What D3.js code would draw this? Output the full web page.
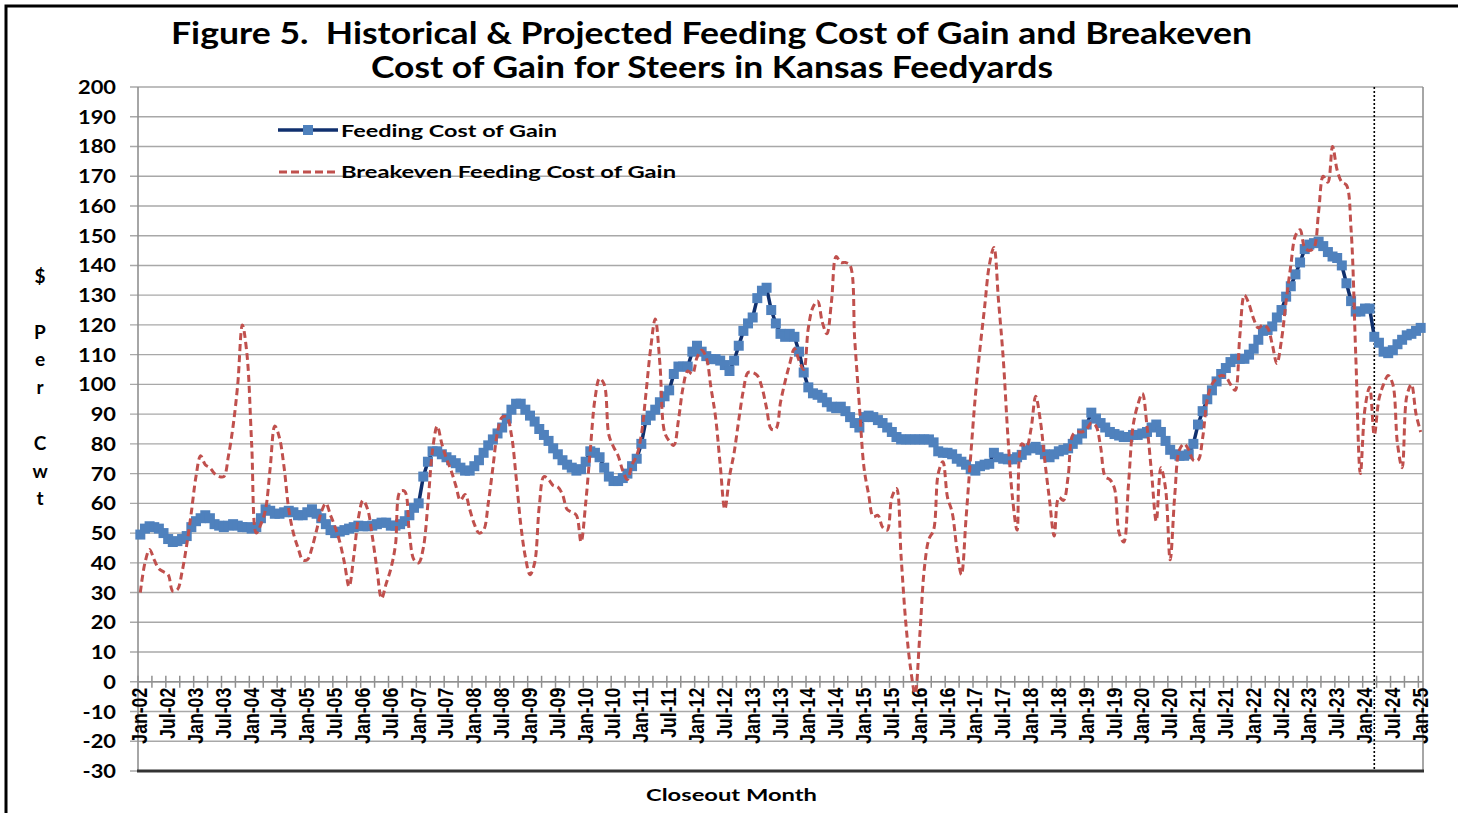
<!DOCTYPE html>
<html>
<head>
<meta charset="utf-8">
<script src="https://cdn.jsdelivr.net/npm/d3@7"></script>
<style>
  html, body { margin: 0; padding: 0; background: #fff; }
  svg { display: block; }
  text { white-space: pre; }
</style>
</head>
<body>
<svg id="chart" width="1458" height="813"></svg>
<script>
// ---------- DATA ----------
const firstMonth = new Date(2002, 0, 1);
const lastMonth = new Date(2025, 0, 1);
const projectionStart = "Mar-24";

const tickLabels = [
  "Jan-02","Jul-02","Jan-03","Jul-03","Jan-04","Jul-04","Jan-05","Jul-05","Jan-06","Jul-06",
  "Jan-07","Jul-07","Jan-08","Jul-08","Jan-09","Jul-09","Jan-10","Jul-10","Jan-11","Jul-11",
  "Jan-12","Jul-12","Jan-13","Jul-13","Jan-14","Jul-14","Jan-15","Jul-15","Jan-16","Jul-16",
  "Jan-17","Jul-17","Jan-18","Jul-18","Jan-19","Jul-19","Jan-20","Jul-20","Jan-21","Jul-21",
  "Jan-22","Jul-22","Jan-23","Jul-23","Jan-24","Jul-24","Jan-25"
];

const yTicks = [-30,-20,-10,0,10,20,30,40,50,60,70,80,90,100,110,120,130,140,150,160,170,180,190,200];

// Feeding Cost of Gain ($/cwt), monthly Jan-02 .. Jan-25
const feedingCOG = [
  49.5, 51.5, 52.3, 52, 51.5, 50, 48, 47, 47.3, 48, 49, 52,          // 2002
  54, 55, 56, 55, 53, 52.5, 52, 52.5, 53, 52.5, 52, 52,              // 2003
  51.5, 52, 55, 58, 57.5, 56.5, 56.5, 57, 57.5, 57, 56, 56,          // 2004
  57, 58, 56.5, 55, 53, 51, 50, 50.5, 51, 51.5, 52, 52.5,            // 2005
  52.3, 52.3, 52.5, 53, 53.5, 53.5, 52.5, 52.5, 53, 54, 56, 58.5,    // 2006
  60, 69, 74, 77.5, 77.5, 76.5, 75.5, 74.5, 73.5, 72, 71, 71,        // 2007
  72.5, 74.5, 77, 79.5, 81.5, 83.5, 85.5, 88.5, 91.5, 93.5, 93.5, 91.5, // 2008
  89.5, 87.5, 85, 83, 81, 78.5, 76.5, 74.5, 73, 72, 71, 71.5,        // 2009
  74, 77.5, 77, 75.5, 72, 69, 67.5, 67.5, 68.5, 70, 72.5, 75,        // 2010
  80, 88, 89.5, 91.5, 94, 96, 98, 103.5, 106, 106, 106, 111,         // 2011
  113, 111, 109.5, 108.5, 108.5, 108, 106.5, 104.5, 108, 113, 118, 120.5, // 2012
  122.5, 129, 131.5, 132.5, 125, 120.5, 117, 116, 117, 116, 111, 104,   // 2013
  99, 97, 96.5, 95.5, 94, 92.5, 92, 92.5, 91, 89, 87, 85.5,          // 2014
  89, 89.5, 89, 88, 87, 85.5, 84, 82.3, 81.5, 81.5, 81.5, 81.5,      // 2015
  81.5, 81.5, 81.5, 80.5, 77.5, 77, 77, 76.5, 75, 74, 73, 71.5,      // 2016
  71, 72.5, 73, 73.3, 77, 75.5, 75, 74.8, 74.8, 75.5, 76.3, 77.8,    // 2017
  78.5, 79, 78, 76.5, 75.5, 76.5, 77.5, 78, 78.5, 80, 81.5, 83.5,    // 2018
  86.5, 90.5, 88.5, 87, 85.5, 84, 83.3, 82.8, 82.3, 82.3, 83, 83,    // 2019
  83.5, 84, 85.5, 86.5, 84, 81, 78, 76.5, 76, 76, 76.5, 80,          // 2020
  86.5, 91, 95, 98, 101, 103.5, 105.5, 107.5, 108.6, 108.6, 108.6, 110, // 2021
  112, 115, 118, 118.3, 119.5, 122.5, 125, 129.5, 133, 137, 141, 145.5, // 2022
  147, 147.5, 148, 146.5, 144.5, 143, 142.5, 140, 134, 128, 124.5, 124.5, // 2023
  125.5, 125.5, 116, 114, 111, 110.5, 111.5, 113.5, 115, 116.5, 117, 118, // 2024
  119                                                                  // 2025
];

// Breakeven Feeding Cost of Gain ($/cwt), monthly Jan-02 .. Jan-25
const breakevenCOG = [
  30, 40, 44.5, 41, 38, 37, 36, 30.5, 31, 37, 46, 57,                // 2002
  69, 76, 73, 72, 70, 69, 69, 76, 86, 100, 120, 110,                 // 2003
  80, 50, 53, 58, 72, 86, 82, 72, 58, 50, 45, 41,                    // 2004
  41, 45, 51, 57, 60, 56, 52, 47, 40, 32, 42, 55,                    // 2005
  61, 58, 49, 38, 28, 33, 38, 46, 64, 64, 50, 41,                    // 2006
  40, 45, 60, 78, 86, 80, 75, 71, 66, 61, 63, 58,                    // 2007
  53, 50, 51, 60, 72, 84, 89, 89, 83, 69, 53, 42,                    // 2008
  36, 40, 59, 69, 68, 66, 65.5, 63, 58, 57, 56, 47,                  // 2009
  60, 78, 95, 102, 100, 83, 79, 76, 71, 68, 73, 76,                  // 2010
  83, 97, 112, 122, 107, 84, 81, 79.5, 88, 99, 104.5, 103.5,         // 2011
  109, 111.5, 109, 99, 89, 73, 58, 69, 77, 88, 98, 104,              // 2012
  104, 103, 99, 92, 85, 85, 94, 101, 107, 112, 108, 105,             // 2013
  119, 126, 128, 121, 117, 128, 143, 141, 141, 140, 115, 93,         // 2014
  72, 63, 55.5, 56, 52, 51, 62, 65, 42, 20, 5, -4,                   // 2015
  15, 38, 48, 51, 70, 74, 62, 57, 45, 36, 55, 76,                    // 2016
  96, 112, 126, 140, 146, 128, 109, 83, 62, 51, 80, 79,              // 2017
  85, 96, 88, 74, 61, 49, 62, 61, 69, 83, 84, 84,                    // 2018
  85, 87, 86, 79, 69, 68, 65, 50, 47, 66, 86, 93,                    // 2019
  97, 86, 70, 54, 72, 65, 41, 63, 78, 80, 78, 74.5,                  // 2020
  74.5, 82, 95, 100, 102, 103, 102.5, 100, 98, 116, 130, 127,        // 2021
  122, 119, 120, 119, 113.5, 107, 115, 128, 140, 150, 152, 146,      // 2022
  145, 146, 158, 170, 168, 180, 172, 168, 167, 152, 110, 70,         // 2023
  92, 99, 83, 95, 100, 103, 100, 80, 72, 96, 100, 90,                // 2024
  84                                                                 // 2025
];

const titleLines = [
  "Figure 5.  Historical & Projected Feeding Cost of Gain and Breakeven",
  "Cost of Gain for Steers in Kansas Feedyards"
];
const seriesNames = ["Feeding Cost of Gain", "Breakeven Feeding Cost of Gain"];
const xTitle = "Closeout Month";
const yTitleLines = ["$", "", "P", "e", "r", "", "C", "w", "t"];

// ---------- SETUP ----------
const fmt = d3.timeFormat("%b-%y");
const months = d3.timeMonth.range(firstMonth, d3.timeMonth.offset(lastMonth, 1)).map(fmt);

const svg = d3.select("#chart");
const plot = { left: 138, right: 1423, top: 87, bottom: 771 };

const x = d3.scaleBand().domain(months).range([plot.left, plot.right]).paddingInner(0).paddingOuter(0);
const bw = x.bandwidth();
const cx = m => x(m) + bw / 2;
const xb = d3.scaleLinear().domain([0, months.length]).range([plot.left, plot.right]); // category boundaries
const y = d3.scaleLinear().domain([-30, 200]).range([plot.bottom, plot.top]);

const gridColor = "#A8A8A8";
const font = "Lato, 'Open Sans', 'DejaVu Sans', sans-serif";

svg.append("rect").attr("width", 1458).attr("height", 813).attr("fill", "#fff");

// outer frame
svg.append("rect").attr("x", 6).attr("y", 6).attr("width", 1470).attr("height", 830)
  .attr("fill", "none").attr("stroke", "#000").attr("stroke-width", 3);

// gridlines + y ticks
svg.append("g").selectAll("line").data(yTicks).join("line")
  .attr("x1", plot.left - 8).attr("x2", plot.right)
  .attr("y1", d => y(d)).attr("y2", d => y(d))
  .attr("stroke", gridColor).attr("stroke-width", 1.4);

// y axis line and right border
svg.append("line").attr("x1", plot.left).attr("x2", plot.left).attr("y1", plot.top).attr("y2", plot.bottom)
  .attr("stroke", "#909090").attr("stroke-width", 1.6);
svg.append("line").attr("x1", plot.right).attr("x2", plot.right).attr("y1", plot.top).attr("y2", plot.bottom)
  .attr("stroke", "#909090").attr("stroke-width", 1.6);
// bottom border
svg.append("line").attr("x1", plot.left - 1).attr("x2", plot.right + 1).attr("y1", plot.bottom).attr("y2", plot.bottom)
  .attr("stroke", "#333").attr("stroke-width", 3);

// y tick labels
svg.append("g").selectAll("text").data(yTicks).join("text")
  .attr("transform", d => `translate(116,${y(d) + 7}) scale(1.15,1)`)
  .attr("text-anchor", "end")
  .attr("font-family", font).attr("font-weight", 700).attr("font-size", 19)
  .attr("fill", "#000")
  .text(d => d);

// x axis line at 0
svg.append("line").attr("x1", plot.left).attr("x2", plot.right).attr("y1", y(0)).attr("y2", y(0))
  .attr("stroke", "#909090").attr("stroke-width", 1.6);

// x tick marks (cross) every 3 months at category boundaries
const tickIdx = d3.range(0, months.length + 1, 3);
svg.append("g").selectAll("line").data(tickIdx).join("line")
  .attr("x1", d => xb(d)).attr("x2", d => xb(d))
  .attr("y1", y(0) - 6).attr("y2", y(0) + 6)
  .attr("stroke", "#909090").attr("stroke-width", 1.5);

// x tick labels
svg.append("g").selectAll("text").data(tickLabels).join("text")
  .attr("transform", d => `translate(${cx(d) + 7},${y(0) + 6}) rotate(-90) scale(0.82,1)`)
  .attr("text-anchor", "end")
  .attr("font-family", "'Liberation Sans', Arial, sans-serif").attr("font-weight", 700).attr("font-size", 21.5)
  .attr("fill", "#000")
  .text(d => d);

// projection divider
svg.append("line")
  .attr("x1", cx(projectionStart)).attr("x2", cx(projectionStart))
  .attr("y1", plot.top).attr("y2", plot.bottom)
  .attr("stroke", "#000").attr("stroke-width", 1.6).attr("stroke-dasharray", "2,2");

// ---------- SERIES ----------
const blueLine = d3.line().x((d, i) => cx(months[i])).y(d => y(d));
svg.append("path").datum(feedingCOG)
  .attr("d", blueLine).attr("fill", "none")
  .attr("stroke", "#10306E").attr("stroke-width", 3.5).attr("stroke-linejoin", "round");
svg.append("g").selectAll("rect").data(feedingCOG).join("rect")
  .attr("x", (d, i) => cx(months[i]) - 5).attr("y", d => y(d) - 5)
  .attr("width", 10).attr("height", 10)
  .attr("fill", "#4F81BD");

const redLine = d3.line().x((d, i) => cx(months[i])).y(d => y(d)).curve(d3.curveCatmullRom.alpha(0.5));
svg.append("path").datum(breakevenCOG)
  .attr("d", redLine).attr("fill", "none")
  .attr("stroke", "#C0504D").attr("stroke-width", 3).attr("stroke-dasharray", "7,4");

// ---------- LEGEND ----------
const lg = svg.append("g");
lg.append("line").attr("x1", 278).attr("x2", 338).attr("y1", 130).attr("y2", 130)
  .attr("stroke", "#10306E").attr("stroke-width", 3.5);
lg.append("rect").attr("x", 303).attr("y", 125).attr("width", 10).attr("height", 10).attr("fill", "#4F81BD");
lg.append("text").attr("x", 341).attr("y", 137).text(seriesNames[0])
  .attr("font-family", font).attr("font-weight", 700).attr("font-size", 17)
  .attr("textLength", 216).attr("lengthAdjust", "spacingAndGlyphs");
lg.append("line").attr("x1", 279).attr("x2", 338).attr("y1", 172).attr("y2", 172)
  .attr("stroke", "#C0504D").attr("stroke-width", 3).attr("stroke-dasharray", "8,4");
lg.append("text").attr("x", 341).attr("y", 178).text(seriesNames[1])
  .attr("font-family", font).attr("font-weight", 700).attr("font-size", 17)
  .attr("textLength", 335).attr("lengthAdjust", "spacingAndGlyphs");

// ---------- TITLES ----------
svg.append("text").attr("x", 171).attr("y", 44).text(titleLines[0])
  .attr("font-family", font).attr("font-weight", 700).attr("font-size", 30)
  .attr("textLength", 1081).attr("lengthAdjust", "spacingAndGlyphs");
svg.append("text").attr("x", 371).attr("y", 78).text(titleLines[1])
  .attr("font-family", font).attr("font-weight", 700).attr("font-size", 30)
  .attr("textLength", 682).attr("lengthAdjust", "spacingAndGlyphs");

svg.append("text").attr("x", 646).attr("y", 801).text(xTitle)
  .attr("font-family", font).attr("font-weight", 700).attr("font-size", 17)
  .attr("textLength", 171).attr("lengthAdjust", "spacingAndGlyphs");

svg.append("g").selectAll("text").data(yTitleLines).join("text")
  .attr("x", 40).attr("y", (d, i) => 283 + i * 27.8)
  .attr("text-anchor", "middle")
  .attr("font-family", font).attr("font-weight", 700).attr("font-size", 19)
  .text(d => d);
</script>
</body>
</html>
